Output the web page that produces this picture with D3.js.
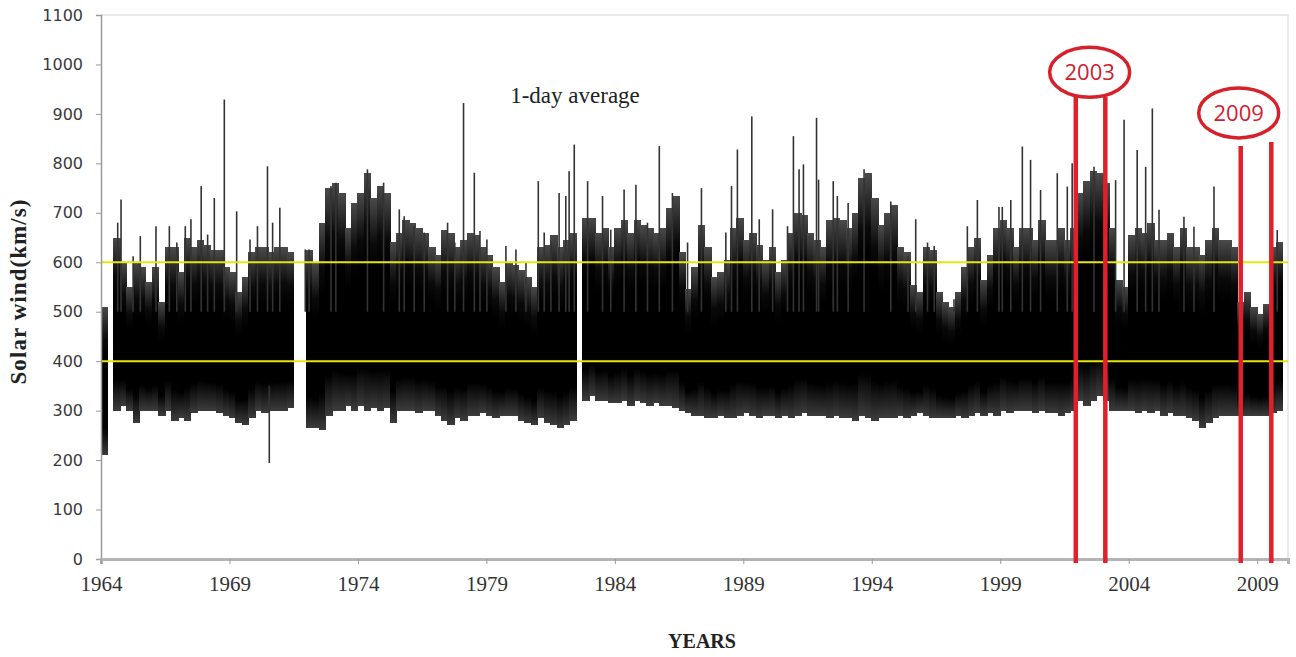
<!DOCTYPE html>
<html><head><meta charset="utf-8">
<script src="https://cdn.jsdelivr.net/npm/d3@7"></script>
<style>body{margin:0;background:#fff}svg{display:block}</style>
</head><body>
<svg id="c" width="1296" height="657"></svg>
<script>
// ---- data ----
const startYear = 1964;           // first quarter-year bin
const binSize = 0.25;             // years per bin
// upper edge of the dense daily trace per quarter-year (km/s), null = data gap
const hiVals = [
 510,null,650,600, 550,600,590,560, 590,520,630,630, 580,650,630,645, 635,625,625,590,
 580,540,570,620, 630,630,620,630, 630,620,null,null, 625,600,680,750, 760,740,670,720,
 740,780,730,755, 740,640,660,685, 680,670,660,630, 615,665,660,630, 645,660,655,630,
 615,590,560,600, 595,585,570,550, 630,635,655,630, 645,660,null,690, 690,660,670,630,
 670,685,660,685, 675,670,660,670, 710,735,620,545, 590,675,630,570, 580,605,670,690,
 645,660,635,605, 630,580,605,660, 700,695,660,645, 630,685,690,685, 670,700,770,780,
 730,675,700,715, 630,620,555,540, 630,625,540,520, 510,540,590,630, 650,565,615,670,
 685,670,630,670, 670,645,685,645, 645,670,645,670, 740,765,785,780, 760,670,565,550,
 655,670,660,680, 645,645,660,630, 670,630,630,615, 645,670,645,645, 630,520,540,510,
 495,515,630,640];
// lower edge of the dense daily trace per quarter-year (km/s)
const loVals = [
 210,null,300,310, 300,275,300,300, 300,290,300,280, 285,280,295,300, 300,300,295,290,
 285,275,270,285, 300,295,300,300, 300,305,null,null, 265,265,260,290, 300,300,310,300,
 310,300,305,300, 305,275,300,300, 300,295,300,300, 290,280,270,285, 280,290,290,295,
 290,285,290,290, 290,280,275,270, 285,275,270,265, 270,280,null,320, 330,320,320,315,
 315,320,310,320, 315,310,315,310, 310,305,300,295, 290,290,285,285, 290,285,285,290,
 295,290,285,290, 290,285,290,285, 290,295,290,290, 290,285,290,285, 285,280,290,285,
 280,285,285,285, 290,285,290,295, 290,285,285,285, 285,290,285,290, 295,290,295,290,
 300,295,300,300, 300,295,300,295, 295,290,295,300, 320,310,320,330, 320,300,300,300,
 300,295,300,295, 300,290,295,290, 290,285,280,265, 275,285,290,290, 290,290,290,290,
 290,290,295,300];
// isolated daily peaks [year, km/s]
const spikeYears = [1964.65,1964.78,1965.25,1965.53,1966.14,1966.66,1966.95,1967.28,1967.5,1967.9,1968.15,1968.41,1968.8,1969.28,1969.8,1970.09,1970.48,1970.68,1970.96,1971.95,1972.1,1972.95,1973.14,1974.37,1975.0,
 1975.61,1975.8,1976.19,1976.58,1977.49,1977.77,1978.11,1978.53,1978.75,1979.02,1979.76,1980.15,1980.54,1981.02,1981.25,1981.51,1981.83,1982.09,1982.22,1982.42,1982.94,1983.52,1983.84,1984.36,1984.82,1985.27,1985.73,1986.24,
 1986.83,1987.37,1988.32,1988.54,1988.77,1989.33,1989.62,1990.14,1990.72,1990.95,1991.17,1991.34,1991.85,1991.93,1992.5,1992.66,1993.08,1993.7,1994.74,1995.41,1995.71,1996.17,1996.43,1997.2,1997.72,
 1998.11,1998.95,1999.08,1999.41,1999.86,2000.18,2000.57,2001.22,2001.61,2001.8,2002.65,2003.49,2003.82,2004.33,2004.66,2004.92,2005.18,2006.15,2006.54,2007.32,2009.78];
const spikeVals = [680,727,612,653,673,673,640,673,687,754,656,730,929,703,646,673,794,680,710,626,626,754,761,788,761,
 707,693,673,660,680,640,922,781,663,646,633,626,599,764,660,640,740,734,784,838,764,734,666,747,757,680,835,740,
 640,750,660,754,828,895,687,707,673,855,788,798,892,767,764,734,720,788,723,612,687,640,633,525,673,
 726,712,712,726,834,807,746,780,753,800,793,766,888,827,793,911,706,692,672,753,665];
// isolated low days [year, km/s]
const dipYears = [1970.55];
const dipVals = [194];
// reference levels
const refLevels = [400, 600];
// annotation (red marks)
const markYears = [2001.94, 2003.09, 2008.36, 2009.55];
const markTops = [934, 934, 835, 843];
const circleLabels = ["2003", "2009"];
const circleYears = [2002.48, 2008.28];
const circleVals = [984, 902];
// axes
const yTicks = [0,100,200,300,400,500,600,700,800,900,1000,1100];
const xTicks = [1964,1969,1974,1979,1984,1989,1994,1999,2004,2009];

// ---- drawing ----
const svg = d3.select("#c");
const x = d3.scaleLinear().domain([1964, 2010.2]).range([101, 1288]);
const y = d3.scaleLinear().domain([0, 1100]).range([559, 15]);

// gradient to mimic the sparse fringe of many daily lines
const defs = svg.append("defs");
const gr = defs.append("linearGradient").attr("id","mass").attr("x1",0).attr("y1",0).attr("x2",0).attr("y2",1);
[[0,"#4a4a4a"],[0.22,"#0a0a0a"],[0.35,"#000"],[0.82,"#000"],[1,"#3c3c3c"]]
  .forEach(s=>gr.append("stop").attr("offset",s[0]).attr("stop-color",s[1]));

// frame (top/right faint border)
svg.append("path").attr("d", `M${x(1964)},${y(1100)}H${x(2010.2)}V${y(0)}`)
  .attr("fill","none").attr("stroke","#e4e4e4").attr("stroke-width",1.5);

const bins = hiVals.map((h,i)=>({t: startYear + i*binSize, hi: h, lo: loVals[i]})).filter(d=>d.hi!==null);
const g = svg.append("g");
g.selectAll("rect.bin").data(bins).join("rect")
  .attr("x", d=>Math.floor(x(d.t))).attr("width", d=>Math.ceil(x(d.t+binSize))-Math.floor(x(d.t)))
  .attr("y", d=>y(d.hi)).attr("height", d=>y(d.lo)-y(d.hi))
  .attr("fill","url(#mass)").attr("shape-rendering","crispEdges");

const spikes = spikeYears.map((t,i)=>[t, spikeVals[i]]);
g.selectAll("line.sp").data(spikes).join("line")
  .attr("x1",d=>x(d[0])).attr("x2",d=>x(d[0]))
  .attr("y1",y(500)).attr("y2",d=>y(d[1]))
  .attr("stroke","#333").attr("stroke-width",1.6);
const dips = dipYears.map((t,i)=>[t, dipVals[i]]);
g.selectAll("line.dp").data(dips).join("line")
  .attr("x1",d=>x(d[0])).attr("x2",d=>x(d[0]))
  .attr("y1",y(350)).attr("y2",d=>y(d[1]))
  .attr("stroke","#333").attr("stroke-width",1.6);

// yellow reference lines
svg.selectAll("line.ref").data(refLevels).join("line")
  .attr("x1",x(1964)).attr("x2",x(2010.2)).attr("y1",d=>y(d)).attr("y2",d=>y(d))
  .attr("stroke","#e8e410").attr("stroke-width",2);

// axes
const yAxis = svg.append("g").attr("transform",`translate(${x(1964)},0)`)
  .call(d3.axisLeft(y).tickValues(yTicks).tickFormat(d3.format("d")).tickSize(5).tickPadding(13));
yAxis.select(".domain").attr("stroke","#9a9a9a").attr("stroke-width",1.5);
yAxis.selectAll(".tick line").attr("stroke","#9a9a9a");
yAxis.selectAll("text").attr("font-family","'DejaVu Sans', Verdana, sans-serif")
  .attr("font-size",16).attr("fill","#3a3a3a");

const xAxis = svg.append("g").attr("transform",`translate(0,${y(0)})`)
  .call(d3.axisBottom(x).tickValues(xTicks).tickFormat(d3.format("d")).tickSize(5).tickPadding(12));
xAxis.select(".domain").attr("stroke","#b4b4b4").attr("stroke-width",3);
xAxis.selectAll(".tick line").attr("stroke","#9a9a9a");
xAxis.selectAll("text").attr("font-family","'Liberation Serif', 'Times New Roman', serif")
  .attr("font-size",21).attr("fill","#333");

// annotations
svg.selectAll("line.mark").data(markYears).join("line")
  .attr("x1",d=>x(d)).attr("x2",d=>x(d))
  .attr("y1",(d,i)=>y(markTops[i])).attr("y2",y(0)+4)
  .attr("stroke","#e0202a").attr("stroke-width",4.5);
const lab = svg.selectAll("g.lab").data(circleLabels).join("g")
  .attr("transform",(d,i)=>`translate(${x(circleYears[i])},${y(circleVals[i])})`);
lab.append("ellipse").attr("rx",40).attr("ry",25)
  .attr("fill","#fff").attr("stroke","#d8202a").attr("stroke-width",3.5);
lab.append("text").text(d=>d).attr("text-anchor","middle").attr("dy","0.36em")
  .attr("font-family","'Open Sans', 'Liberation Sans', sans-serif").attr("font-size",22)
  .attr("fill","#d02030");

// titles
svg.append("text").text("1-day average").attr("x",575).attr("y",103)
  .attr("text-anchor","middle").attr("font-family","'Liberation Serif', serif")
  .attr("font-size",23).attr("fill","#222");
svg.append("text").text("YEARS").attr("x",702).attr("y",648)
  .attr("text-anchor","middle").attr("font-family","'Liberation Serif', serif")
  .attr("font-weight","bold").attr("font-size",20).attr("fill","#222");
svg.append("text").text("Solar wind(km/s)")
  .attr("transform","translate(26,292) rotate(-90)")
  .attr("text-anchor","middle").attr("font-family","'Liberation Serif', serif")
  .attr("font-weight","bold").attr("font-size",23).attr("textLength",185)
  .attr("fill","#222");
</script>
</body></html>
